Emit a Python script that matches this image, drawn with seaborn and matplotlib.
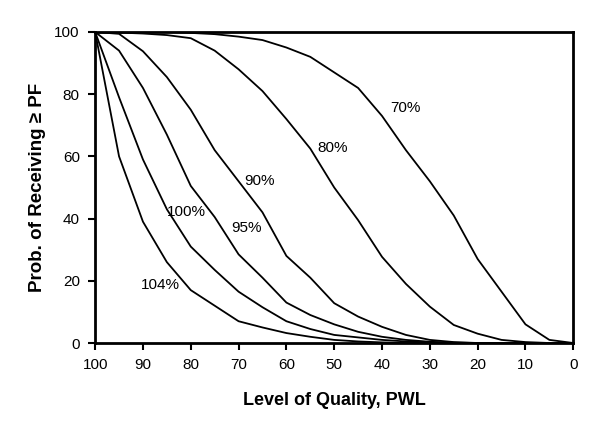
import matplotlib
matplotlib.use("Agg")
import matplotlib.pyplot as plt
import seaborn as sns
import pandas as pd

# PWL levels, read every 5 units
pwl = [100, 95, 90, 85, 80, 75, 70, 65, 60, 55, 50, 45, 40, 35, 30, 25, 20, 15, 10, 5, 0]

# probability of receiving >= PF for each payment factor curve
pf_70 = [100, 100, 100, 100, 99.7, 99.3, 98.5, 97.4, 95, 92, 87, 82, 73, 62, 52, 41, 27, 16.5, 6, 1, 0]
pf_80 = [100, 99.8, 99.5, 99, 98, 94, 88, 81, 72, 62.5, 50, 39.5, 27.7, 19, 11.7, 5.8, 3, 1, 0.3, 0, 0]
pf_90 = [100, 99.4, 93.8, 85.5, 75, 62, 52, 42, 28, 21, 12.8, 8.5, 5.2, 2.6, 1, 0.3, 0, 0, 0, 0, 0]
pf_95 = [100, 94, 82, 67, 50.5, 40.5, 28.5, 21, 13, 9, 6, 3.6, 2, 1, 0.4, 0.1, 0, 0, 0, 0, 0]
pf_100 = [100, 79, 59, 43, 31, 23.5, 16.5, 11.5, 7, 4.5, 2.6, 1.8, 1, 0.5, 0.2, 0, 0, 0, 0, 0, 0]
pf_104 = [100, 60, 39, 26, 17, 12, 7, 5, 3.2, 2, 1, 0.5, 0.2, 0, 0, 0, 0, 0, 0, 0, 0]

curve_names = ["70%", "80%", "90%", "95%", "100%", "104%"]
curves = [pf_70, pf_80, pf_90, pf_95, pf_100, pf_104]

# label positions (pwl, prob)
label_x = [35.1, 50.4, 65.7, 68.4, 81.0, 86.4]
label_y = [75.6, 62.7, 52.0, 37.0, 42.0, 18.6]

rows = []
for name, vals in zip(curve_names, curves):
    for x, y in zip(pwl, vals):
        rows.append({"pwl": x, "prob": y, "curve": name})
df = pd.DataFrame(rows)

sns.set_style("ticks")
plt.rcParams['font.family'] = ['Liberation Sans', 'DejaVu Sans']
plt.rcParams['text.color'] = 'black'
plt.rcParams['axes.labelcolor'] = 'black'

fig = plt.figure(figsize=(6.06, 4.32), dpi=100)
ax = fig.add_axes([0.157, 0.206, 0.789, 0.72])

sns.lineplot(data=df, x="pwl", y="prob", hue="curve", palette=["black"] * 6,
             legend=False, linewidth=1.3, ax=ax, sort=False)

for name, lx, ly in zip(curve_names, label_x, label_y):
    ax.text(lx, ly, name, fontsize=11, ha="center", va="center", color="black")

ax.set_xlim(100, 0)
ax.set_ylim(0, 100)
ax.set_xticks(range(100, -1, -10))
ax.set_yticks(range(0, 101, 20))
ax.tick_params(direction="out", length=5, width=1.5, labelsize=11, colors="black", pad=6)
for s in ax.spines.values():
    s.set_visible(True)
    s.set_linewidth(2)
    s.set_color("black")

ax.set_xlabel("Level of Quality, PWL", fontsize=13, fontweight="bold", labelpad=14)
ax.set_ylabel("Prob. of Receiving \u2265 PF", fontsize=13.5, fontweight="bold", labelpad=6)

fig.savefig("out.png", dpi=100)
